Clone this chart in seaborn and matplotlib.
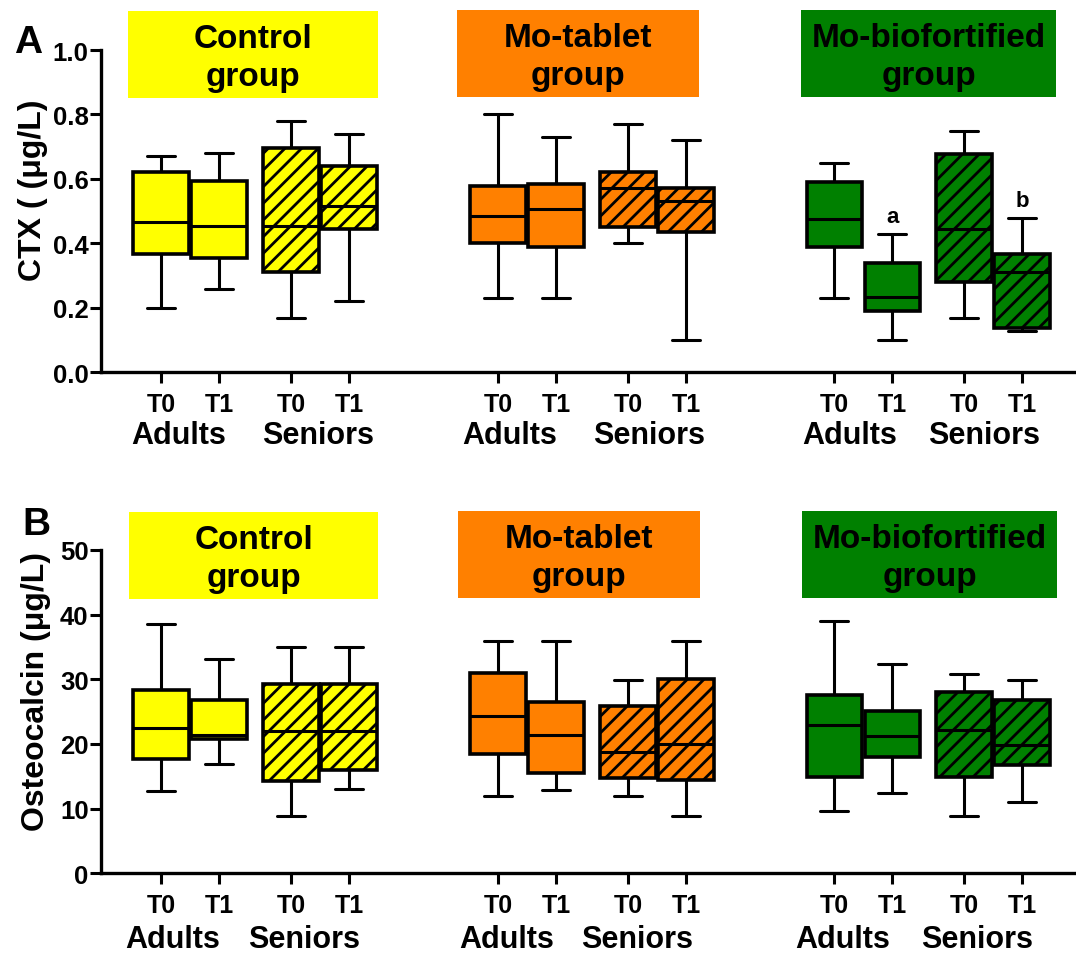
import numpy as np
import pandas as pd
import matplotlib
matplotlib.use("Agg")
import matplotlib.pyplot as plt
from matplotlib.patches import Rectangle
import seaborn as sns

# ---------------- data ----------------
groups = ["Control\ngroup", "Mo-tablet\ngroup", "Mo-biofortified\ngroup"]
group_colors = ["#FFFF00", "#FF8000", "#008000"]
ages = ["Adults", "Seniors"]
times = ["T0", "T1"]

# order inside each group: Adults T0, Adults T1, Seniors T0, Seniors T1
ctx_min = [0.20, 0.26, 0.17, 0.22, 0.23, 0.23, 0.40, 0.10, 0.23, 0.10, 0.17, 0.128]
ctx_q1 = [0.367, 0.355, 0.31, 0.445, 0.40, 0.39, 0.452, 0.435, 0.39, 0.19, 0.28, 0.138]
ctx_med = [0.465, 0.455, 0.455, 0.515, 0.485, 0.508, 0.572, 0.533, 0.475, 0.235, 0.445, 0.312]
ctx_q3 = [0.62, 0.595, 0.695, 0.64, 0.578, 0.583, 0.62, 0.572, 0.59, 0.34, 0.676, 0.368]
ctx_max = [0.67, 0.68, 0.78, 0.74, 0.80, 0.73, 0.77, 0.72, 0.65, 0.43, 0.75, 0.48]
ctx_sig = ["", "", "", "", "", "", "", "", "", "a", "", "b"]

ost_min = [12.7, 16.9, 8.9, 13.0, 12.0, 12.9, 12.0, 8.9, 9.7, 12.4, 8.9, 11.0]
ost_q1 = [17.7, 20.8, 14.3, 16.0, 18.4, 15.5, 14.7, 14.4, 14.85, 18.0, 14.95, 16.7]
ost_med = [22.4, 21.4, 22.0, 22.0, 24.4, 21.4, 18.8, 20.0, 22.9, 21.2, 22.2, 19.9]
ost_q3 = [28.3, 26.8, 29.2, 29.3, 31.0, 26.5, 25.8, 30.0, 27.5, 25.1, 28.1, 26.8]
ost_max = [38.5, 33.2, 35.0, 35.0, 36.0, 36.0, 29.9, 35.9, 39.0, 32.3, 30.9, 29.9]
ost_sig = [""] * 12

# ---------------- layout ----------------
W, H = 1076, 954
UNIT = 58.0      # px per x unit
X0_PX = 161.0    # px of first box centre
within = [0, 1, 2.24, 3.24]
group_off = [0, 5.81, 11.61]
positions = [g + w for g in group_off for w in within]


def px2x(px):
    return (px - X0_PX) / UNIT


sns.set_style("ticks")
plt.rcParams["font.family"] = ["Liberation Sans", "DejaVu Sans"]
plt.rcParams["font.weight"] = "bold"
plt.rcParams["hatch.linewidth"] = 2.0
for key in ["text.color", "axes.labelcolor", "xtick.color", "ytick.color", "axes.edgecolor"]:
    plt.rcParams[key] = "black"

fig = plt.figure(figsize=(W / 100, H / 100), dpi=100)


def make_df(mins, q1s, meds, q3s, maxs):
    rows = []
    for i, p in enumerate(positions):
        for v in (mins[i], q1s[i], meds[i], q3s[i], maxs[i]):
            rows.append((p, v))
    return pd.DataFrame(rows, columns=["pos", "value"])


def panel(top_px, bot_px, stats, sig, ylim, yticks, yfmt, ylabel, ylab_px,
          letter, letter_px, hdr, age_px, age_off):
    ax = fig.add_axes([101 / W, 1 - bot_px / H, (W - 101) / W, (bot_px - top_px) / H])
    df = make_df(*stats)
    sns.boxplot(data=df, x="pos", y="value", native_scale=True, orient="x",
                whis=(0, 100), width=0.96, color="white", linecolor="black",
                linewidth=2.2, saturation=1, fliersize=0, ax=ax)
    for i, patch in enumerate(ax.patches):
        patch.set_facecolor(group_colors[i // 4])
        patch.set_edgecolor("black")
        patch.set_linewidth(2.6)
        if i % 4 >= 2:
            patch.set_hatch("//")
    ax.set_xlim(px2x(101), px2x(W))
    ax.set_ylim(*ylim)
    ax.set_yticks(yticks)
    ax.set_yticklabels([yfmt.format(v) for v in yticks], fontsize=18.5, fontweight="bold",
                       color="black")
    ax.set_xticks(positions)
    ax.set_xticklabels(times * 6, fontsize=18, fontweight="bold", color="black")
    ax.tick_params(axis="both", length=8, width=2.2, color="black")
    ax.tick_params(axis="y", pad=1)
    ax.tick_params(axis="x", pad=6)
    ax.set_xlabel("")
    ax.set_ylabel("")
    for s in ["top", "right"]:
        ax.spines[s].set_visible(False)
    for s in ["left", "bottom"]:
        ax.spines[s].set_linewidth(2.4)
        ax.spines[s].set_color("black")
    ax.set_facecolor("white")
    # significance letters
    maxs = stats[4]
    for i, s in enumerate(sig):
        if s:
            ax.annotate(s, xy=(positions[i], maxs[i]), xytext=(0, 12),
                        textcoords="offset pixels", ha="center", va="baseline",
                        fontsize=16, fontweight="bold", color="black")
    # age labels
    for j, xp in enumerate(age_px):
        ax.annotate(ages[j % 2], xy=(px2x(xp), 0), xycoords=("data", "axes fraction"),
                    xytext=(0, -age_off), textcoords="offset pixels",
                    ha="center", va="center", fontsize=22, fontweight="bold",
                    color="black", annotation_clip=False)
    # headers
    for k, (x0, y0, x1, y1) in enumerate(hdr):
        fig.add_artist(Rectangle((x0 / W, 1 - y1 / H), (x1 - x0) / W, (y1 - y0) / H,
                                 transform=fig.transFigure, facecolor=group_colors[k],
                                 edgecolor="none"))
        fig.text((x0 + x1) / 2 / W, 1 - ((y0 + y1) / 2 + 3) / H, groups[k],
                 ha="center", va="center", fontsize=24, fontweight="bold",
                 linespacing=1.3, color="black")
    fig.text(ylab_px[0] / W, 1 - ylab_px[1] / H, ylabel, rotation=90,
             ha="center", va="center", fontsize=23, fontweight="bold", color="black")
    fig.text(letter_px[0] / W, 1 - letter_px[1] / H, letter, ha="center", va="center",
             fontsize=28, fontweight="bold", color="black")
    return ax


panel(51, 373.3, (ctx_min, ctx_q1, ctx_med, ctx_q3, ctx_max), ctx_sig,
      (0, 1.0), [0.0, 0.2, 0.4, 0.6, 0.8, 1.0], "{:.1f}", "CTX ( (\u03bcg/L)", (33, 190),
      "A", (28, 43),
      [(128, 12, 378, 99), (457, 11, 699, 98), (801, 11, 1056, 98)],
      [179, 318, 510, 649.5, 850, 984], 63)

panel(551, 874.3, (ost_min, ost_q1, ost_med, ost_q3, ost_max), ost_sig,
      (0, 50), [0, 10, 20, 30, 40, 50], "{:.0f}", "Osteocalcin (\u03bcg/L)", (36, 692),
      "B", (36, 525),
      [(129, 513, 378, 600), (458, 512, 700, 599), (802, 512, 1057, 599)],
      [172.5, 304.5, 506.7, 637.5, 843, 977.5], 66)

fig.savefig("out.png", dpi=100, facecolor="white")
